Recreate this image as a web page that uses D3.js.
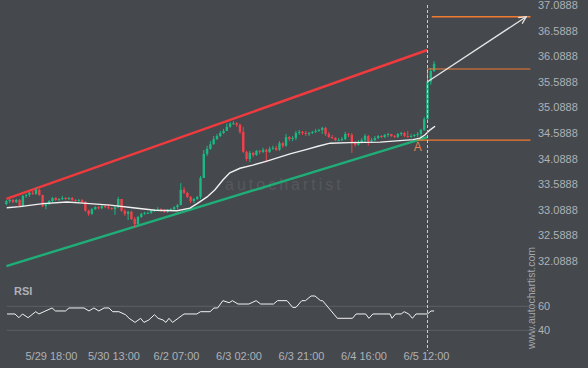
<!DOCTYPE html>
<html>
<head>
<meta charset="utf-8">
<script src="https://cdn.jsdelivr.net/npm/d3@7"></script>
<style>
  html, body { margin: 0; padding: 0; background: #45484d; }
  svg { display: block; font-family: "Liberation Sans", Arial, sans-serif; }
</style>
</head>
<body>
<svg id="chart" width="588" height="368"></svg>
<script>
// hourly candles, bar 0 .. 130 (open of a bar = close of the previous one)
const firstOpen = 33.20;
const closes = [
  33.26,33.28,33.24,33.28,33.16,33.36,33.38,33.42,33.40,33.48,
  33.38,33.16,33.20,33.26,33.32,33.28,33.30,33.32,33.30,33.32,
  33.28,33.26,33.28,33.24,33.07,33.01,33.10,33.14,33.12,33.16,
  33.14,33.12,33.10,33.14,33.30,33.07,33.01,33.05,32.91,32.81,
  32.95,33.01,33.03,33.03,33.07,33.09,33.10,33.07,33.05,33.09,
  33.10,33.14,33.18,33.48,33.42,33.34,33.26,33.30,33.34,33.71,
  34.18,34.28,34.37,34.47,34.53,34.59,34.63,34.71,34.77,34.78,
  34.75,34.61,34.22,34.08,34.20,34.16,34.24,34.22,34.26,34.22,
  34.28,34.30,34.26,34.39,34.34,34.51,34.47,34.49,34.59,34.61,
  34.59,34.57,34.59,34.61,34.63,34.65,34.69,34.57,34.51,34.49,
  34.45,34.45,34.47,34.57,34.55,34.41,34.36,34.41,34.45,34.53,
  34.43,34.45,34.49,34.53,34.51,34.55,34.57,34.53,34.51,34.57,
  34.59,34.53,34.51,34.53,34.55,34.57,34.65,34.86,35.59,35.80,
  35.94
];
const highs = [
  33.28,33.30,33.30,33.30,33.30,33.38,33.40,33.44,33.46,33.52,
  33.50,33.38,33.22,33.28,33.34,33.34,33.32,33.36,33.34,33.34,
  33.34,33.30,33.30,33.30,33.26,33.09,33.12,33.16,33.16,33.18,
  33.18,33.20,33.14,33.16,33.34,33.30,33.10,33.07,33.07,32.95,
  32.97,33.03,33.05,33.05,33.09,33.10,33.14,33.12,33.10,33.10,
  33.12,33.16,33.20,33.61,33.53,33.44,33.36,33.32,33.36,33.75,
  34.26,34.34,34.43,34.53,34.57,34.63,34.67,34.78,34.80,34.82,
  34.80,34.77,34.71,34.24,34.24,34.22,34.26,34.26,34.30,34.28,
  34.32,34.34,34.34,34.43,34.41,34.57,34.53,34.53,34.63,34.65,
  34.63,34.63,34.61,34.63,34.67,34.67,34.71,34.71,34.61,34.55,
  34.51,34.49,34.51,34.61,34.59,34.59,34.43,34.45,34.49,34.57,
  34.55,34.49,34.53,34.55,34.55,34.57,34.59,34.57,34.55,34.59,
  34.61,34.61,34.63,34.57,34.57,34.61,34.67,34.90,35.60,35.86,
  35.99
];
const lows = [
  33.18,33.22,33.22,33.22,33.14,33.14,33.32,33.34,33.38,33.38,
  33.36,33.14,33.10,33.18,33.24,33.26,33.26,33.28,33.28,33.28,
  33.26,33.24,33.24,33.22,33.05,32.97,32.99,33.09,33.10,33.10,
  33.12,33.10,33.09,32.99,33.12,33.05,32.97,32.89,32.89,32.75,
  32.79,32.93,32.99,33.01,33.01,33.05,33.07,33.05,33.03,33.03,
  33.07,33.09,33.10,33.18,33.40,33.32,33.22,33.22,33.28,33.30,
  33.71,34.14,34.26,34.36,34.45,34.51,34.57,34.63,34.69,34.75,
  34.71,34.57,34.20,34.04,34.02,34.12,34.14,34.18,34.20,34.02,
  34.20,34.26,34.24,34.24,34.30,34.32,34.43,34.43,34.45,34.55,
  34.55,34.53,34.53,34.57,34.59,34.61,34.57,34.53,34.49,34.47,
  34.43,34.43,34.43,34.45,34.51,34.20,34.32,34.34,34.39,34.41,
  34.34,34.41,34.43,34.47,34.49,34.49,34.51,34.51,34.49,34.49,
  34.53,34.51,34.49,34.49,34.51,34.51,34.47,34.63,34.82,35.53,
  35.78
];

// moving average, read at bar positions
const maAt  = [0.1,4.1,11.1,18.4,23.3,31.5,38.5,45.2,51.9,55.8,58.2,61,63.4,65.8,67.9,71,74.9,79.2,86.2,90.8,94.7,98.4,104.4,113.6,123.6,125.7,127.2,128.8,130.3];
const maVal = [33.13,33.15,33.21,33.24,33.22,33.18,33.13,33.08,33.07,33.12,33.22,33.34,33.48,33.67,33.81,33.90,33.96,34.04,34.18,34.26,34.33,34.39,34.40,34.41,34.46,34.49,34.55,34.65,34.72];

// RSI, read at bar positions
const rsiAt  = [0.2,2.6,3.8,4.9,6.6,8.9,9.9,11.4,13.9,14.9,18,19,23.6,25.1,26.6,28.1,29.7,31.2,32.3,34.2,36.2,37.3,39.1,40.8,41.8,43.3,45,46.1,47.6,48.5,49.4,50.5,52.2,54,57.9,59,61.9,63.1,64.2,65.8,67.7,68.7,70.4,73.7,75.9,77.3,81.2,82.4,85.3,87,88,89.8,90.9,92.6,93.8,95.5,96.1,100.6,105.2,106.3,109.2,110.2,111.4,116.6,117.2,118.3,120,120.9,122.3,123.4,124.5,128,129.1,130];
const rsiVal = [53.6,53.6,50.5,53.6,50.5,55.5,53.6,55.5,58.6,56.1,56.1,58.6,58.6,56.1,58.6,56.1,58.6,58.6,55.5,55.5,53,50,46.6,50,46.6,48.6,53,50,48.6,46.6,50,46.6,50,53.6,53.6,55.5,55.5,58.6,58.6,64.7,63,64.7,61.9,61.9,64.7,61.9,61.9,64.7,64.7,59.1,59.1,64.7,64.7,68.6,68.6,64.7,64.7,50,50,53.6,53.6,50,53.6,53.6,50,53.6,53.6,55.5,53.6,50,53.6,53.6,56.1,56.1];

// channel end points [bar, price]
const channelUpper = [[0, 33.30], [128, 36.21]];
const channelLower = [[0, 31.99], [128, 34.51]];

// pattern levels
const supportLevel = 34.45, entryLevel = 35.84, targetLevel = 36.86;
const forecastFrom = [128, 35.59], forecastTo = [158, 36.86];

const priceTicks = [32.0888, 32.5888, 33.0888, 33.5888, 34.0888, 34.5888, 35.0888, 35.5888, 36.0888, 36.5888, 37.0888];
const rsiTicks = [40, 60];
const timeAt = [14, 33, 52, 71, 90, 109, 128];
const timeLabels = ["5/29 18:00", "5/30 13:00", "6/2 07:00", "6/3 02:00", "6/3 21:00", "6/4 16:00", "6/5 12:00"];

const UP = "#1cb782", DOWN = "#f3404a", ORANGE = "#f27b32", TXT = "#aeb1b6";

const svg = d3.select("#chart");
const x = d3.scaleLinear().domain([0, 159]).range([6.4, 529.5]);
const y = d3.scaleLinear().domain([32.0888, 37.0888]).range([261, 5]);
const yR = d3.scaleLinear().domain([40, 60]).range([330.3, 306.3]);
const xEnd = 159.3;

// watermark
svg.append("text").attr("x", 225).attr("y", 190)
  .attr("font-size", 16).attr("letter-spacing", 3).attr("fill", "#55585d")
  .text("autochartist");
svg.append("text").attr("transform", "translate(534.5,298) rotate(-90)")
  .attr("text-anchor", "middle").attr("font-size", 10.5).attr("fill", "#a3a6ab")
  .text("www.autochartist.com");

// RSI panel
svg.append("g").selectAll("line").data(rsiTicks).join("line")
  .attr("x1", 7).attr("x2", 537).attr("y1", d => yR(d)).attr("y2", d => yR(d))
  .attr("stroke", "#5d6065").attr("stroke-width", 1);
svg.append("text").attr("x", 14).attr("y", 295).attr("font-size", 11)
  .attr("font-weight", "bold").attr("fill", TXT).text("RSI");
svg.append("path").datum(rsiAt.map((b, i) => [b, rsiVal[i]]))
  .attr("fill", "none").attr("stroke", "#f2f2f2").attr("stroke-width", 1)
  .attr("d", d3.line().x(d => x(d[0])).y(d => yR(d[1])));
const rsiAxis = svg.append("g").attr("transform", "translate(535,0)")
  .call(d3.axisRight(yR).tickValues(rsiTicks).tickSize(0).tickPadding(3));
rsiAxis.select(".domain").remove();
rsiAxis.selectAll("text").attr("fill", TXT).attr("font-size", 11).attr("font-family", null);

// price axis
const pAxis = svg.append("g").attr("transform", "translate(535,0)")
  .call(d3.axisRight(y).tickValues(priceTicks).tickFormat(d3.format(".4f")).tickSize(0).tickPadding(3));
pAxis.select(".domain").remove();
pAxis.selectAll("text").attr("fill", TXT).attr("font-size", 11).attr("font-family", null);

// time axis
const tAxis = svg.append("g").attr("transform", "translate(-1.5,346)")
  .call(d3.axisBottom(x).tickValues(timeAt).tickFormat((d, i) => timeLabels[i]).tickSize(0).tickPadding(6));
tAxis.select(".domain").remove();
tAxis.selectAll("text").attr("fill", TXT).attr("font-size", 11).attr("font-family", null);

const line = d3.line().x(d => x(d[0])).y(d => y(d[1]));

// channel
svg.append("path").datum(channelLower).attr("d", line)
  .attr("stroke", "#1fae78").attr("stroke-width", 2.4).attr("fill", "none");
svg.append("path").datum(channelUpper).attr("d", line)
  .attr("stroke", "#ef3a3e").attr("stroke-width", 2.4).attr("fill", "none");

// candles
const bars = closes.map((c, i) => ({ i, o: i ? closes[i - 1] : firstOpen, c, h: highs[i], l: lows[i] }));
const cg = svg.append("g");
cg.selectAll("line").data(bars).join("line")
  .attr("x1", d => x(d.i)).attr("x2", d => x(d.i))
  .attr("y1", d => y(d.h)).attr("y2", d => y(d.l))
  .attr("stroke", d => d.c >= d.o ? UP : DOWN).attr("stroke-width", 1);
cg.selectAll("rect").data(bars).join("rect")
  .attr("x", d => x(d.i) - 1.2).attr("width", 2.4)
  .attr("y", d => y(Math.max(d.o, d.c)))
  .attr("height", d => Math.max(1, Math.abs(y(d.o) - y(d.c))))
  .attr("fill", d => d.c >= d.o ? UP : DOWN);

// moving average
svg.append("path").datum(maAt.map((b, i) => [b, maVal[i]])).attr("d", line)
  .attr("stroke", "#f0f0f0").attr("stroke-width", 1.4).attr("fill", "none");

// pattern levels
svg.append("path").datum([[124.7, supportLevel], [xEnd, supportLevel]]).attr("d", line)
  .attr("stroke", ORANGE).attr("stroke-width", 1.4).attr("fill", "none");
svg.append("path").datum([[forecastFrom[0], forecastFrom[1]], [128, entryLevel], [xEnd, entryLevel]]).attr("d", line)
  .attr("stroke", ORANGE).attr("stroke-width", 1.1).attr("fill", "none");
svg.append("path").datum([[129.3, targetLevel], [xEnd, targetLevel]]).attr("d", line)
  .attr("stroke", ORANGE).attr("stroke-width", 1.4).attr("fill", "none");
svg.append("text").attr("x", x(125)).attr("y", y(supportLevel) + 11)
  .attr("text-anchor", "middle").attr("font-size", 12).attr("fill", "#e8814c").text("A");

// forecast arrow
svg.append("defs").append("marker").attr("id", "head")
  .attr("viewBox", "0 0 10 10").attr("refX", 9).attr("refY", 5)
  .attr("markerWidth", 9).attr("markerHeight", 9).attr("markerUnits", "userSpaceOnUse")
  .attr("orient", "auto")
  .append("path").attr("d", "M1,1L9,5L1,9").attr("fill", "none")
  .attr("stroke", "#e6e6e6").attr("stroke-width", 1.4);
svg.append("path").datum([forecastFrom, forecastTo]).attr("d", line)
  .attr("stroke", "#e6e6e6").attr("stroke-width", 1.3).attr("fill", "none")
  .attr("marker-end", "url(#head)");

// current bar marker
svg.append("line").attr("x1", x(128)).attr("x2", x(128)).attr("y1", 5).attr("y2", 351)
  .attr("stroke", "#c9cbce").attr("stroke-width", 1).attr("stroke-dasharray", "3,2");
</script>
</body>
</html>
